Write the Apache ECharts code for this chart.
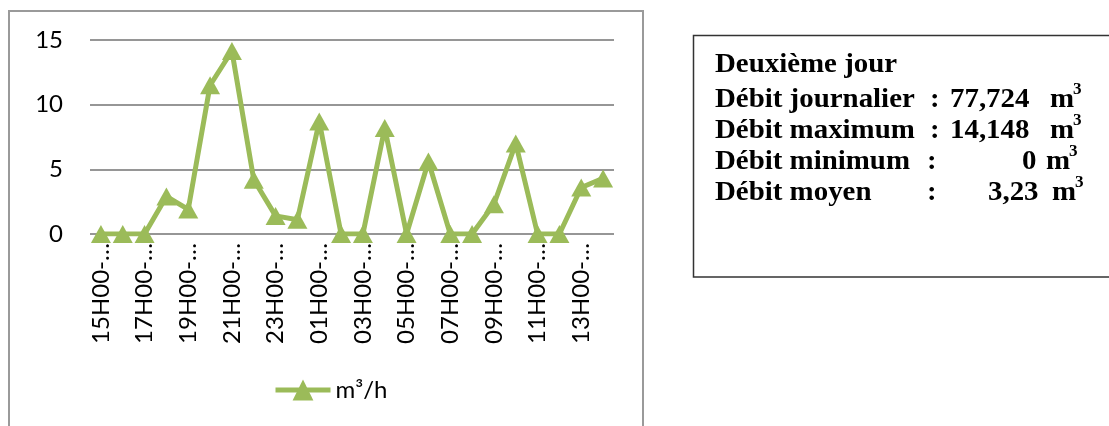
<!DOCTYPE html>
<html>
<head>
<meta charset="utf-8">
<script src="https://cdn.jsdelivr.net/npm/echarts@6/dist/echarts.min.js"></script>
<style>
  html, body { margin: 0; padding: 0; background: #fff; }
  #chart { width: 1109px; height: 426px; }
</style>
</head>
<body>
<div id="chart"></div>
<script>
// ---- data ----
const categories = [
  '15H00-16H00', '16H00-17H00', '17H00-18H00', '18H00-19H00', '19H00-20H00', '20H00-21H00',
  '21H00-22H00', '22H00-23H00', '23H00-00H00', '00H00-01H00', '01H00-02H00', '02H00-03H00',
  '03H00-04H00', '04H00-05H00', '05H00-06H00', '06H00-07H00', '07H00-08H00', '08H00-09H00',
  '09H00-10H00', '10H00-11H00', '11H00-12H00', '12H00-13H00', '13H00-14H00', '14H00-15H00'
];
const flow = [0, 0, 0, 2.9, 1.9, 11.5, 14.148, 4.2, 1.4, 1.1, 8.7, 0,
              0, 8.2, 0, 5.6, 0, 0, 2.3, 7.0, 0, 0, 3.6, 4.3];
const seriesName = 'm³/h';
const yTicks = [0, 5, 10, 15];
const boxTitle = 'Deuxième jour';
const statLabels = ['Débit journalier', 'Débit maximum', 'Débit minimum', 'Débit moyen'];
const statValues = ['77,724', '14,148', '0', '3,23'];
const statUnit = 'm';
const statUnitSup = '3';

// ---- layout helpers (positions only) ----
const SX = 1.07;
const serif = '"Liberation Serif", "Times New Roman", serif';
function txt(str, x, y, size, align) {
  return {
    type: 'text', x: x, y: y, scaleX: SX, z: 10,
    style: {
      text: str, x: 0, y: 0, fill: '#000',
      fontFamily: serif, fontWeight: 'bold', fontSize: size,
      align: align || 'left', verticalAlign: 'middle'
    }
  };
}
const lineY = [65, 100, 131, 162, 193];
const colonX = [930, 930, 927, 927];
const valueX = [950, 950, 1022, 988];
const unitX = [1050, 1050, 1046, 1052];

const graphics = [
  { type: 'rect', shape: { x: 9, y: 11, width: 634, height: 440 },
    style: { fill: 'none', stroke: '#9a9a9a', lineWidth: 2 }, silent: true },
  { type: 'rect', shape: { x: 693.5, y: 35.5, width: 440, height: 241.5 },
    style: { fill: 'none', stroke: '#333', lineWidth: 1.5 }, silent: true },
  txt(boxTitle, 715, lineY[0], 27)
];
statLabels.forEach(function (lab, i) {
  const y = lineY[i + 1];
  graphics.push(txt(lab, 715, y, 27));
  graphics.push(txt(':', colonX[i], y, 27));
  graphics.push(txt(statValues[i], valueX[i], y, 27));
  graphics.push(txt(statUnit, unitX[i], y, 27));
  graphics.push(txt(statUnitSup, unitX[i] + 23, y - 10, 16));
});

const chart = echarts.init(document.getElementById('chart'));
chart.setOption({
  animation: false,
  backgroundColor: '#fff',
  grid: { left: 90, right: 495, top: 40, bottom: 192, containLabel: false },
  legend: {
    data: [seriesName],
    left: 273, top: 378,
    itemWidth: 55, itemHeight: 26,
    itemGap: 5,
    lineStyle: { width: 5, color: '#9BBB59' },
    itemStyle: { color: '#9BBB59' },
    textStyle: { fontFamily: 'Lato', fontSize: 24, color: '#000' },
    padding: 0
  },
  xAxis: {
    type: 'category',
    data: categories,
    boundaryGap: true,
    axisLine: { show: false },
    axisTick: { show: false },
    axisLabel: {
      interval: 1, rotate: 90, margin: 9,
      fontFamily: 'Lato', fontSize: 24, color: '#000',
      formatter: function (v) { return v.slice(0, 6) + '…'; }
    }
  },
  yAxis: {
    type: 'value',
    min: yTicks[0], max: yTicks[yTicks.length - 1], interval: yTicks[1] - yTicks[0],
    axisLine: { show: false },
    axisTick: { show: false },
    axisLabel: { margin: 27, fontFamily: 'Lato', fontSize: 24, color: '#000' },
    splitLine: { lineStyle: { color: '#969696', width: 2 } }
  },
  series: [{
    name: seriesName,
    type: 'line',
    data: flow,
    symbol: 'triangle',
    symbolSize: [20, 18],
    showAllSymbol: true,
    lineStyle: { color: '#9BBB59', width: 5 },
    itemStyle: { color: '#9BBB59' }
  }],
  graphic: graphics
});
</script>
</body>
</html>
